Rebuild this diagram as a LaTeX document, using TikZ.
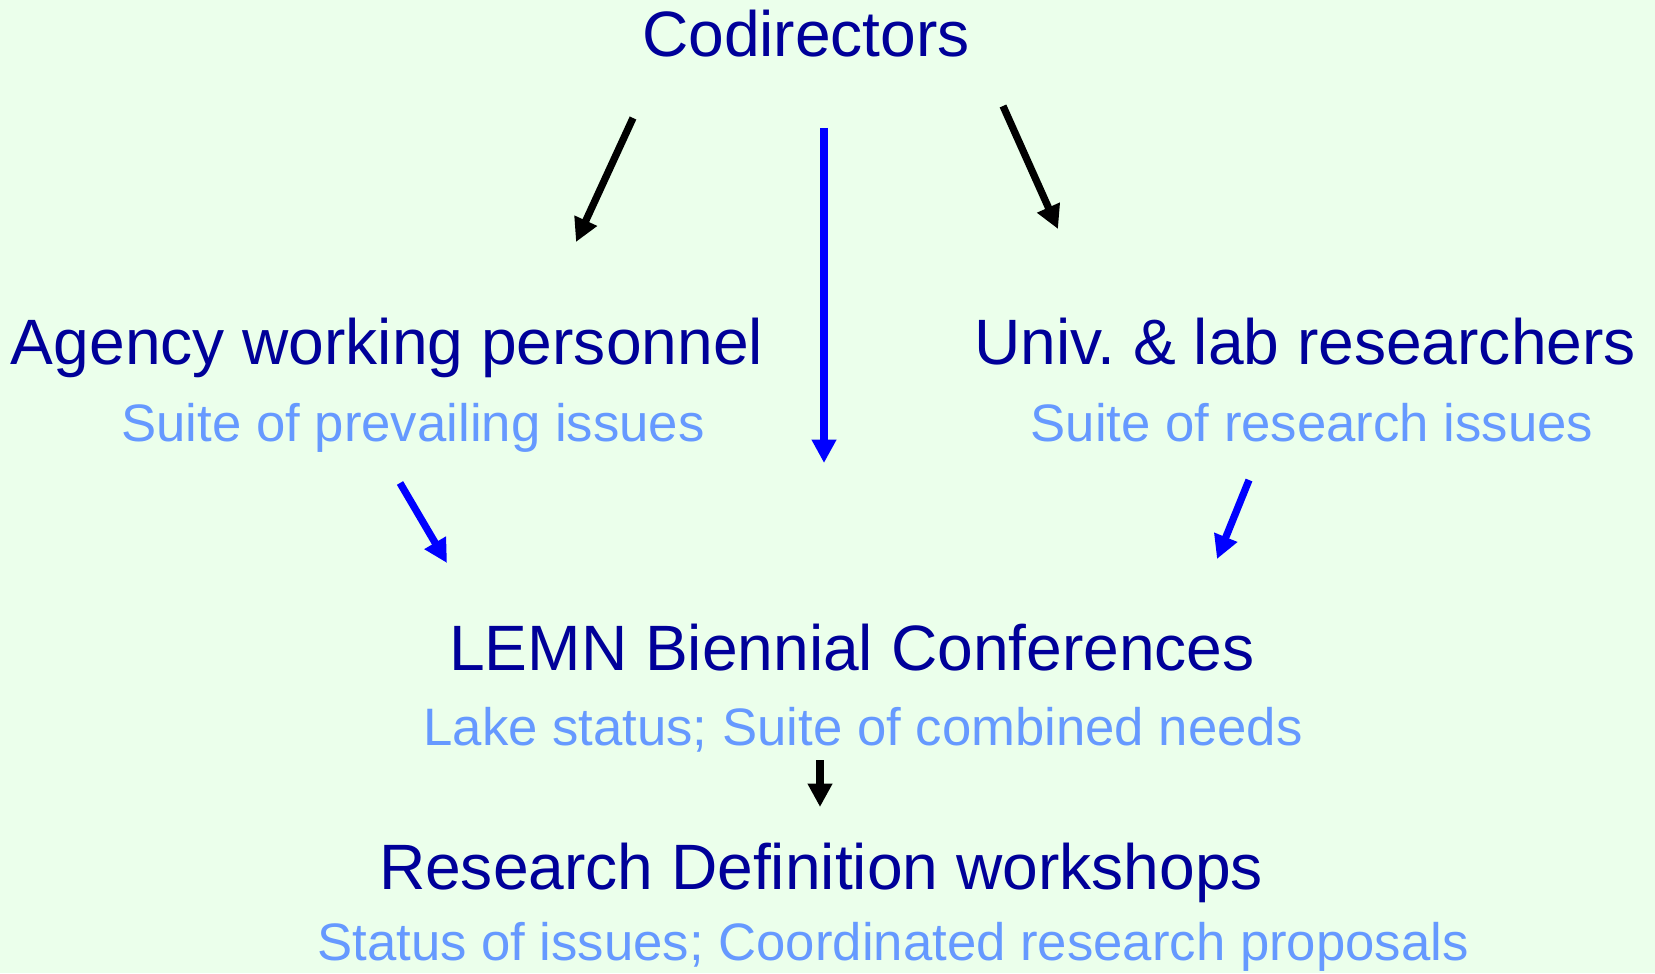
\documentclass[tikz,border=0pt]{standalone}
\usepackage{fontspec}
\setmainfont{Liberation Sans}
\usetikzlibrary{arrows.meta}
\definecolor{bgcol}{HTML}{EBFFEB}
\definecolor{headcol}{HTML}{000099}
\definecolor{subcol}{HTML}{6699FF}
\definecolor{arrblue}{HTML}{0000FF}
\begin{document}
\begin{tikzpicture}[x=0.02cm,y=-0.02cm,
    head/.style={headcol,anchor=base,inner sep=0pt,font=\fontsize{36.5}{40}\selectfont},
    sub/.style={subcol,anchor=base,inner sep=0pt,font=\fontsize{30}{34}\selectfont},
    flow/.style={line width=0.145cm,-{Triangle[length=0.47cm,width=0.47cm]}}]
    \useasboundingbox (0,0) rectangle (1655,973);
    \fill [bgcol] (0,0) rectangle (1655,973);
    % titles
    \node [head] (cod) at (806,57) {Codirectors};
    \node [head] (agency) at (387,364) {Agency working personnel};
    \node [sub] (agencysub) at (413,441) {Suite of prevailing issues};
    \node [head] (univ) at (1305,364) {Univ.\ \& lab researchers};
    \node [sub] (univsub) at (1312,441) {Suite of research issues};
    \node [head] (lemn) at (852,670) {LEMN Biennial Conferences};
    \node [sub] (lemnsub) at (863,745) {Lake status; Suite of combined needs};
    \node [head] (rdw) at (821,889) {Research Definition workshops};
    \node [sub] (rdwsub) at (893,960) {Status of issues; Coordinated research proposals};
    % arrow ends
    \coordinate (codL) at (633,118);
    \coordinate (agencyT) at (576,242);
    \coordinate (codR) at (1003,106);
    \coordinate (univT) at (1058,229);
    \coordinate (codM) at (824,128);
    \coordinate (lemnT) at (824,463);
    \coordinate (agencyB) at (400,483);
    \coordinate (lemnL) at (447,563);
    \coordinate (univB) at (1249,480);
    \coordinate (lemnR) at (1217,559);
    \coordinate (lemnB) at (820,760);
    \coordinate (rdwT) at (820,807);
    \draw [flow] (codL) -- (agencyT);
    \draw [flow] (codR) -- (univT);
    \draw [flow,arrblue] (codM) -- (lemnT);
    \draw [flow,arrblue] (agencyB) -- (lemnL);
    \draw [flow,arrblue] (univB) -- (lemnR);
    \draw [flow] (lemnB) -- (rdwT);
\end{tikzpicture}
\end{document}
